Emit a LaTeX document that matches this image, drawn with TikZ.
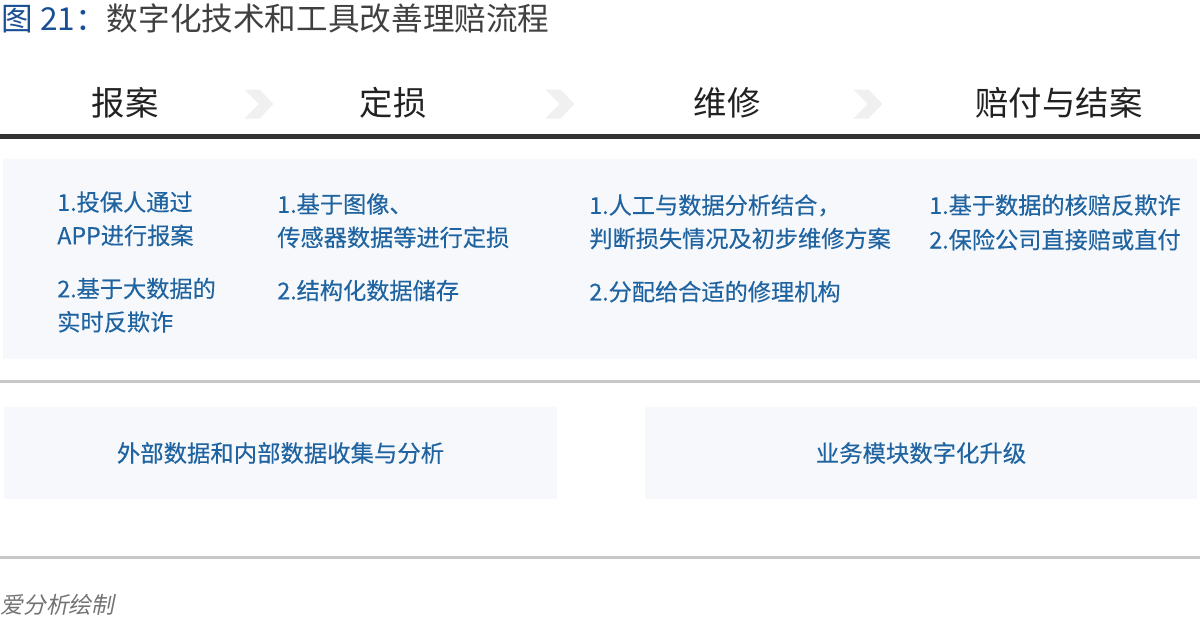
\documentclass[tikz,border=0pt]{standalone}
\usepackage{fontspec}
\setmainfont{Noto Sans CJK SC}
\newfontfamily\slantcjk[FakeSlant=0.2]{Noto Sans CJK SC}
\newfontfamily\itemcjk[FakeBold=0.3]{Noto Sans CJK SC}
\usetikzlibrary{positioning, calc}
\usepackage{xcolor}
\definecolor{TitleBlue}{RGB}{27,79,147}
\definecolor{ItemBlue}{RGB}{31,100,160}
\definecolor{TitleGray}{RGB}{64,64,64}
\definecolor{PanelGray}{RGB}{246,248,252}
\definecolor{RuleGray}{RGB}{200,200,200}
\definecolor{ChevGray}{RGB}{240,240,240}

\begin{document}
\begin{tikzpicture}[
          x=0.02cm, y=-0.02cm,
          phase/.style={inner sep=0pt, text=black!87, font=\fontsize{19pt}{23pt}\selectfont},
          item/.style={anchor=north west, align=left, inner sep=0pt, text=ItemBlue, font=\fontsize{13.2pt}{19pt}\itemcjk},
          panelbox/.style={rectangle, fill=PanelGray, minimum width=11.06cm, minimum height=1.84cm, inner sep=0pt, text=ItemBlue, font=\fontsize{13.3pt}{19pt}\itemcjk},
          chevron/.style={fill=ChevGray},
          rule/.style={line width=1.7pt, RuleGray}
        ]
          \useasboundingbox (0,0) rectangle (1200,626);
          \node (title) [anchor=west, inner sep=0pt, text=TitleGray, font=\fontsize{18pt}{22pt}\selectfont] at (1,18) {{\color{TitleBlue}图 21：}数字化技术和工具改善理赔流程};
          % phase headers
          \node (report) [phase] at (125,103) {报案};
          \node (assess) [phase] at (393,103) {定损};
          \node (repair) [phase] at (727,103) {维修};
          \node (settle) [phase] at (1059,103) {赔付与结案};
          \foreach \a/\b in {report/assess, assess/repair, repair/settle}
            \fill[chevron] ($(\a.east)!0.5!(\b.west)$) ++(-14.5,-13.5) -- ++(15,0) -- ++(14,14.5) -- ++(-14,14.5) -- ++(-15,0) -- ++(14,-14.5) -- cycle;
          \draw[line width=2.8pt, black!80] (0,136.5) -- (1200,136.5);
          % detail panel
          \fill[PanelGray] (3,159) rectangle (1197,359);
          \node (report1) [item] at (57,191) {1.投保人通过\\APP进行报案};
          \node (report2) [item, below right=17.6pt and 0pt of report1.south west] {2.基于大数据的\\实时反欺诈};
          \node (assess1) [item] at (277,193) {1.基于图像、\\传感器数据等进行定损};
          \node (assess2) [item, below right=17.6pt and 0pt of assess1.south west] {2.结构化数据储存};
          \node (repair1) [item] at (589,194) {1.人工与数据分析结合，\\判断损失情况及初步维修方案};
          \node (repair2) [item, below right=17.6pt and 0pt of repair1.south west] {2.分配给合适的修理机构};
          \node (settle1) [item] at (929,194) {1.基于数据的核赔反欺诈};
          \node (settle2) [item, below right=7pt and 0pt of settle1.south west] {2.保险公司直接赔或直付};
          \draw[rule] (0,381) -- (1200,381);
          % support boxes
          \node (data) [panelbox] at (280.5,453) {外部数据和内部数据收集与分析};
          \node (upgrade) [panelbox] at (921,453) {业务模块数字化升级};
          \draw[rule] (0,557) -- (1200,557);
          \node (source) [anchor=west, inner sep=0pt, text=black!55, font=\fontsize{13pt}{16pt}\slantcjk] at (0,605) {爱分析绘制};
        \end{tikzpicture}
\end{document}
